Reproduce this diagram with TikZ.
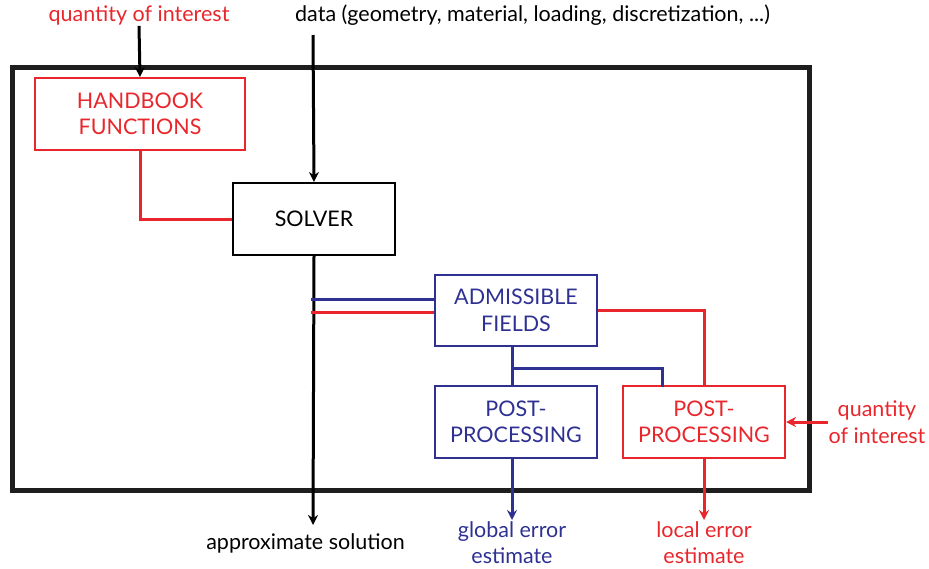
\documentclass[tikz,border=0pt]{standalone}
\usepackage{fontspec}
\setmainfont{Lato}
\usetikzlibrary{arrows.meta,calc}
\definecolor{qred}{RGB}{232,38,43}
\definecolor{qblue}{RGB}{46,49,146}
\definecolor{frame}{RGB}{30,30,30}
\begin{document}
\begin{tikzpicture}[x=1pt,y=-1pt,
  font=\fontsize{21.5}{26.5}\selectfont,
  box/.style={draw, line width=2pt, minimum width=162pt, minimum height=72pt, align=center, inner sep=0pt},
  lbl/.style={align=center, inner sep=1pt},
  conn/.style={line width=3pt},
  arr/.style={conn, -{Stealth[length=10pt,width=10pt]}}]
\useasboundingbox (0,0) rectangle (929,568);

% frame
\draw[line width=5.5pt, frame] (12.5,67.5) rectangle (809.5,490.5);

% boxes
\node[box, qred, minimum width=210pt] (hb) at (140,114) {HANDBOOK\\FUNCTIONS};
\node[box, black] (solver) at (314,219) {SOLVER};
\node[box, qblue, minimum height=71pt] (adm) at (516,310.5) {ADMISSIBLE\\FIELDS};
\node[box, qblue] (bpost) at (516,422) {POST-\\PROCESSING};
\node[box, qred] (rpost) at (704,422) {POST-\\PROCESSING};

% labels
\node[lbl, qred] (qoi1) at (139,15) {quantity of interest};
\node[lbl, anchor=west, inner sep=0pt] (data) at (295,15) {data (geometry, material, loading, discretization, ...)};
\node[lbl, qred, inner sep=0pt] (qoi2) at (877,422) {quantity\\of interest};
\node[lbl] (asol) at (305.5,543) {approximate solution};
\node[lbl, qblue, anchor=north] (glob) at (512,520) {global error\\estimate};
\node[lbl, qred, anchor=north] (loc) at (704,520) {local error\\estimate};

% coordinates
\coordinate (dtop) at (313,35);
\coordinate (send) at (313,525);
\coordinate (bj) at (512,368);
\coordinate (rpb) at (662,387);
\coordinate (bl) at (311,299);
\coordinate (rl) at (311,312);

% connectors
\draw[arr] (qoi1.south) -- (hb.north);
\draw[arr] (dtop) -- (solver.north);
\draw[conn, qred] (hb.south) |- (solver.west);
\draw[arr] (solver.south) -- (send);
\draw[conn, qblue] (bl) -- (bl -| adm.west);
\draw[conn, qred] (rl) -- (rl -| adm.west);
\draw[conn, qred] (adm.east) -| (rpost.north);
\draw[conn, qblue] (glob.north |- adm.south) -- (glob.north |- bpost.north);
\draw[conn, qblue] (bj) -| (rpb);
\draw[arr, qred] (qoi2.west) -- (rpost.east);
\draw[arr, qblue] (glob.north |- bpost.south) -- (glob.north);
\draw[arr, qred] (rpost.south) -- (loc.north);
\end{tikzpicture}
\end{document}
